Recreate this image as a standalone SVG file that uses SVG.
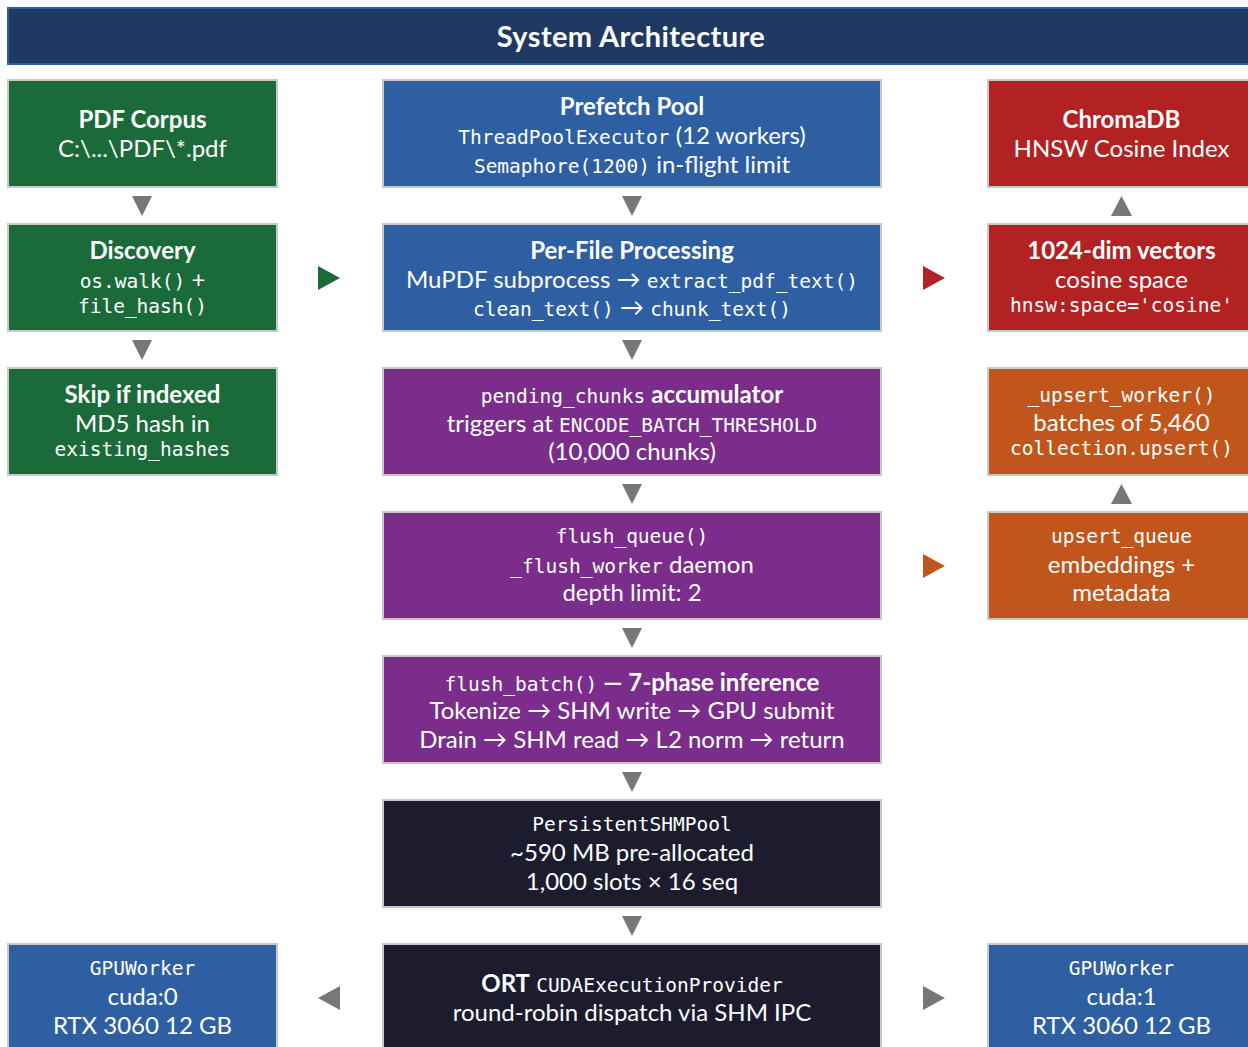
<svg xmlns="http://www.w3.org/2000/svg" width="1248" height="1047" viewBox="0 0 1248 1047">
<style>
.box{stroke:#c8c8c8;stroke-width:2}
.g{fill:#1b6b3a}.bl{fill:#2e5fa3}.r{fill:#b22222}.p{fill:#7b2d8b}.o{fill:#c0561b}.k{fill:#1c1c2e}
.t{font-family:Lato,"Noto Sans","Liberation Sans",sans-serif;font-size:24px;fill:#ffffff;text-anchor:middle}
.b{font-weight:bold}
.m{font-family:"DejaVu Sans Mono","Liberation Mono",monospace;font-size:19.5px}
.ag{fill:#777777}
</style>
<rect width="1248" height="1047" fill="#ffffff"/>
<g id="title">
<rect x="8" y="8" width="1248" height="56" fill="#203864" stroke="#2e5fa3" stroke-width="2"/>
<text x="631" y="47" class="t b" style="font-size:29px;letter-spacing:0.4px">System Architecture</text>
</g>
<g id="pdf-corpus">
<rect class="box g" x="8" y="80" width="269" height="107"/>
<text x="142.5" y="128" class="t b">PDF Corpus</text>
<text x="142.5" y="157" class="t">C:\...\PDF\*.pdf</text>
</g>
<g id="discovery">
<rect class="box g" x="8" y="224" width="269" height="107"/>
<text x="142.5" y="259" class="t b">Discovery</text>
<text x="142.5" y="288" class="t"><tspan class="m">os.walk()</tspan> +</text>
<text x="142.5" y="313" class="t m">file_hash()</text>
</g>
<g id="skip">
<rect class="box g" x="8" y="368" width="269" height="107"/>
<text x="142.5" y="403" class="t b">Skip if indexed</text>
<text x="142.5" y="432" class="t">MD5 hash in</text>
<text x="142.5" y="456" class="t m">existing_hashes</text>
</g>
<g id="prefetch">
<rect class="box bl" x="383" y="80" width="498" height="107"/>
<text x="632" y="115" class="t b">Prefetch Pool</text>
<text x="632" y="144" class="t"><tspan class="m">ThreadPoolExecutor</tspan> (12 workers)</text>
<text x="632" y="173" class="t"><tspan class="m">Semaphore(1200)</tspan> in-flight limit</text>
</g>
<g id="per-file">
<rect class="box bl" x="383" y="224" width="498" height="107"/>
<text x="632" y="259" class="t b">Per-File Processing</text>
<text x="632" y="288" class="t">MuPDF subprocess → <tspan class="m">extract_pdf_text()</tspan></text>
<text x="632" y="316" class="t"><tspan class="m">clean_text()</tspan> → <tspan class="m">chunk_text()</tspan></text>
</g>
<g id="pending">
<rect class="box p" x="383" y="368" width="498" height="107"/>
<text x="632" y="403" class="t"><tspan class="m">pending_chunks</tspan> <tspan class="b">accumulator</tspan></text>
<text x="632" y="432" class="t">triggers at <tspan class="m">ENCODE_BATCH_THRESHOLD</tspan></text>
<text x="632" y="460" class="t">(10,000 chunks)</text>
</g>
<g id="flush-queue">
<rect class="box p" x="383" y="512" width="498" height="107"/>
<text x="632" y="543" class="t m">flush_queue()</text>
<text x="632" y="573" class="t"><tspan class="m">_flush_worker</tspan> daemon</text>
<text x="632" y="601" class="t">depth limit: 2</text>
</g>
<g id="flush-batch">
<rect class="box p" x="383" y="656" width="498" height="107"/>
<text x="632" y="691" class="t"><tspan class="m">flush_batch()</tspan> <tspan class="b">— 7-phase inference</tspan></text>
<text x="632" y="719" class="t">Tokenize → SHM write → GPU submit</text>
<text x="632" y="748" class="t">Drain → SHM read → L2 norm → return</text>
</g>
<g id="shm-pool">
<rect class="box k" x="383" y="800" width="498" height="107"/>
<text x="632" y="831" class="t m">PersistentSHMPool</text>
<text x="632" y="861" class="t">~590 MB pre-allocated</text>
<text x="632" y="890" class="t">1,000 slots × 16 seq</text>
</g>
<g id="ort">
<rect class="box k" x="383" y="944" width="498" height="107"/>
<text x="632" y="992" class="t"><tspan class="b">ORT</tspan> <tspan class="m">CUDAExecutionProvider</tspan></text>
<text x="632" y="1021" class="t">round-robin dispatch via SHM IPC</text>
</g>
<g id="chromadb">
<rect class="box r" x="988" y="80" width="269" height="107"/>
<text x="1121.5" y="128" class="t b">ChromaDB</text>
<text x="1121.5" y="157" class="t">HNSW Cosine Index</text>
</g>
<g id="vectors">
<rect class="box r" x="988" y="224" width="269" height="107"/>
<text x="1121.5" y="259" class="t b">1024-dim vectors</text>
<text x="1121.5" y="288" class="t">cosine space</text>
<text x="1121.5" y="312" class="t m">hnsw:space='cosine'</text>
</g>
<g id="upsert-worker">
<rect class="box o" x="988" y="368" width="269" height="107"/>
<text x="1121.5" y="402" class="t m">_upsert_worker()</text>
<text x="1121.5" y="431" class="t">batches of 5,460</text>
<text x="1121.5" y="455" class="t m">collection.upsert()</text>
</g>
<g id="upsert-queue">
<rect class="box o" x="988" y="512" width="269" height="107"/>
<text x="1121.5" y="543" class="t m">upsert_queue</text>
<text x="1121.5" y="573" class="t">embeddings +</text>
<text x="1121.5" y="601" class="t">metadata</text>
</g>
<g id="gpu0">
<rect class="box bl" x="8" y="944" width="269" height="107"/>
<text x="142.5" y="975" class="t m">GPUWorker</text>
<text x="142.5" y="1005" class="t">cuda:0</text>
<text x="142.5" y="1034" class="t">RTX 3060 12 GB</text>
</g>
<g id="gpu1">
<rect class="box bl" x="988" y="944" width="269" height="107"/>
<text x="1121.5" y="975" class="t m">GPUWorker</text>
<text x="1121.5" y="1005" class="t">cuda:1</text>
<text x="1121.5" y="1034" class="t">RTX 3060 12 GB</text>
</g>
<g id="connectors">
<polygon class="ag" points="132,196 152,196 142,216"/>
<polygon class="ag" points="132,340 152,340 142,360"/>
<polygon class="ag" points="622,196 642,196 632,216"/>
<polygon class="ag" points="622,340 642,340 632,360"/>
<polygon class="ag" points="622,484 642,484 632,504"/>
<polygon class="ag" points="622,628 642,628 632,648"/>
<polygon class="ag" points="622,772 642,772 632,792"/>
<polygon class="ag" points="622,916 642,916 632,936"/>
<polygon class="ag" points="1111,216 1132,216 1121.5,196"/>
<polygon class="ag" points="1111,504 1132,504 1121.5,484"/>
<polygon fill="#1b6b3a" points="318,266 340,278 318,290"/>
<polygon fill="#b22222" points="923,266 945,278 923,290"/>
<polygon fill="#c0561b" points="923,554 945,566 923,578"/>
<polygon class="ag" points="340,986 318,998 340,1010"/>
<polygon class="ag" points="923,986 945,998 923,1010"/>
</g>
</svg>
